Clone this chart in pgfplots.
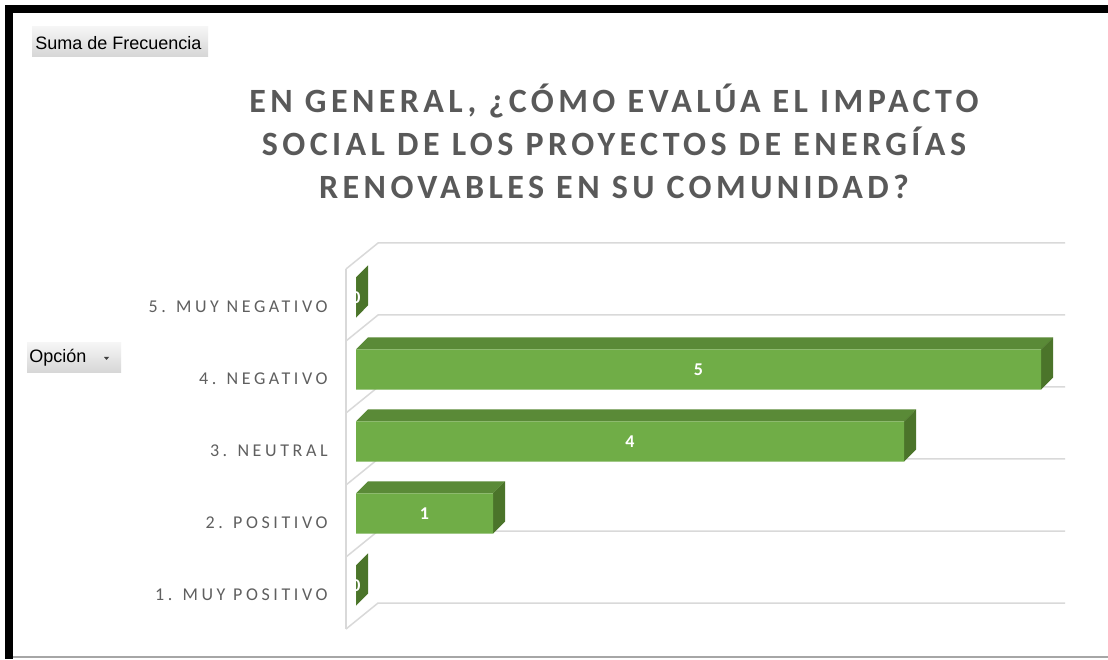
\documentclass[border=0pt]{standalone}
\usepackage{fontspec}
\setmainfont{Carlito}
\usepackage{pgfplots}
\usepackage{pgfplotstable}
\pgfplotsset{compat=1.18}
\newfontfamily\titlefont[LetterSpace=13]{Carlito}
\newfontfamily\labfont[LetterSpace=20]{Carlito}
\newfontfamily\btnfont{Liberation Sans}
\definecolor{front}{HTML}{70AD47}
\definecolor{topc}{HTML}{5A8A37}
\definecolor{sidec}{HTML}{4B742A}
\definecolor{gridc}{HTML}{D9D9D9}
\definecolor{titlec}{HTML}{595959}
\definecolor{labc}{HTML}{5F5F5F}
\pgfplotstableread{
y v
1 0
2 1
3 4
4 5
5 0
}\data
\begin{document}
\begin{tikzpicture}
\useasboundingbox (0,0) rectangle (554pt,329.5pt);
\begin{scope}[x=0.5pt,y=-0.5pt,yshift=329.5pt]
\fill[white] (0,0) rectangle (1108,659);
\fill[black] (5,5) rectangle (1108,13);
\fill[black] (5,5) rectangle (13,659);
\draw[gray!70, line width=1pt] (13,657) -- (1108,657);
% buttons
\shade[top color=gray!8, bottom color=gray!32] (32,27) rectangle (208,57);
\node[anchor=west, font=\btnfont\fontsize{9}{10}\selectfont, inner sep=0pt] at (35,43) {Suma de Frecuencia};
\shade[top color=gray!8, bottom color=gray!32] (27,343) rectangle (121,373);
\node[anchor=west, font=\btnfont\fontsize{9}{10}\selectfont, inner sep=0pt] at (29,358) {Opción};
\fill[gray!50!black] (104,357) -- (109,357) -- (106.5,360) -- cycle;
% title
\node[align=center, font=\titlefont\bfseries\fontsize{17}{21.5}\selectfont, text=titlec, inner sep=0pt] at (614,141) {EN GENERAL, ¿CÓMO EVALÚA EL IMPACTO\\SOCIAL DE LOS PROYECTOS DE ENERGÍAS\\RENOVABLES EN SU COMUNIDAD?};
\end{scope}
\begin{axis}[at={(173pt,15pt)}, anchor=south west, scale only axis,
  width=359.5pt, height=193pt,
  xmin=-0.073, xmax=5.175, ymin=0.5, ymax=5.861,
  axis line style={draw=none}, xtick=\empty,
  ytick={1,2,3,4,5},
  yticklabels={1. MUY POSITIVO, 2. POSITIVO, 3. NEUTRAL, 4. NEGATIVO, 5. MUY NEGATIVO},
  major tick length=0pt,
  yticklabel style={font=\labfont\fontsize{9}{10}\selectfont, text=labc, anchor=east, inner sep=0pt, xshift=-9pt, yshift=-1pt},
  clip=false]
% walls / grid
\addplot[gridc, line width=0.75pt] coordinates {(-0.073,0.5) (0.161,0.861) (5.175,0.861)};
\addplot[gridc, line width=0.75pt] coordinates {(-0.073,1.5) (0.161,1.861) (5.175,1.861)};
\addplot[gridc, line width=0.75pt] coordinates {(-0.073,2.5) (0.161,2.861) (5.175,2.861)};
\addplot[gridc, line width=0.75pt] coordinates {(-0.073,3.5) (0.161,3.861) (5.175,3.861)};
\addplot[gridc, line width=0.75pt] coordinates {(-0.073,4.5) (0.161,4.861) (5.175,4.861)};
\addplot[gridc, line width=0.75pt] coordinates {(-0.073,5.5) (0.161,5.861) (5.175,5.861)};
\addplot[gridc, line width=0.75pt] coordinates {(-0.073,0.5) (-0.073,5.5)};
% 3D faces
\addplot[fill=topc, draw=none] coordinates {(0,4.382) (5,4.382) (5.0876,4.549) (0.0876,4.549)} -- cycle;
\addplot[fill=sidec, draw=none] coordinates {(5,3.826) (5,4.382) (5.0876,4.549) (5.0876,3.993)} -- cycle;
\addplot[fill=topc, draw=none] coordinates {(0,3.382) (4,3.382) (4.0876,3.549) (0.0876,3.549)} -- cycle;
\addplot[fill=sidec, draw=none] coordinates {(4,2.826) (4,3.382) (4.0876,3.549) (4.0876,2.993)} -- cycle;
\addplot[fill=topc, draw=none] coordinates {(0,2.382) (1,2.382) (1.0876,2.549) (0.0876,2.549)} -- cycle;
\addplot[fill=sidec, draw=none] coordinates {(1,1.826) (1,2.382) (1.0876,2.549) (1.0876,1.993)} -- cycle;
\addplot[fill=sidec, draw=none] coordinates {(0,4.826) (0,5.382) (0.0876,5.549) (0.0876,4.993)} -- cycle;
\addplot[fill=sidec, draw=none] coordinates {(0,0.826) (0,1.382) (0.0876,1.549) (0.0876,0.993)} -- cycle;
% front faces
\addplot[xbar, bar width=0.556, bar shift=0.104, fill=front, draw=none] table[x=v, y=y] {\data};
% labels
\addplot[draw=none, mark=none, nodes near coords, point meta=explicit,
  nodes near coords align=center, /pgf/number format/assume math mode=true,
  every node near coord/.append style={font=\bfseries\fontsize{9}{10}\selectfont, text=white, anchor=center}]
  table[x expr=\thisrow{v}/2, y expr=\thisrow{y}+0.104, meta=v] {\data};
\end{axis}
\end{tikzpicture}
\end{document}
